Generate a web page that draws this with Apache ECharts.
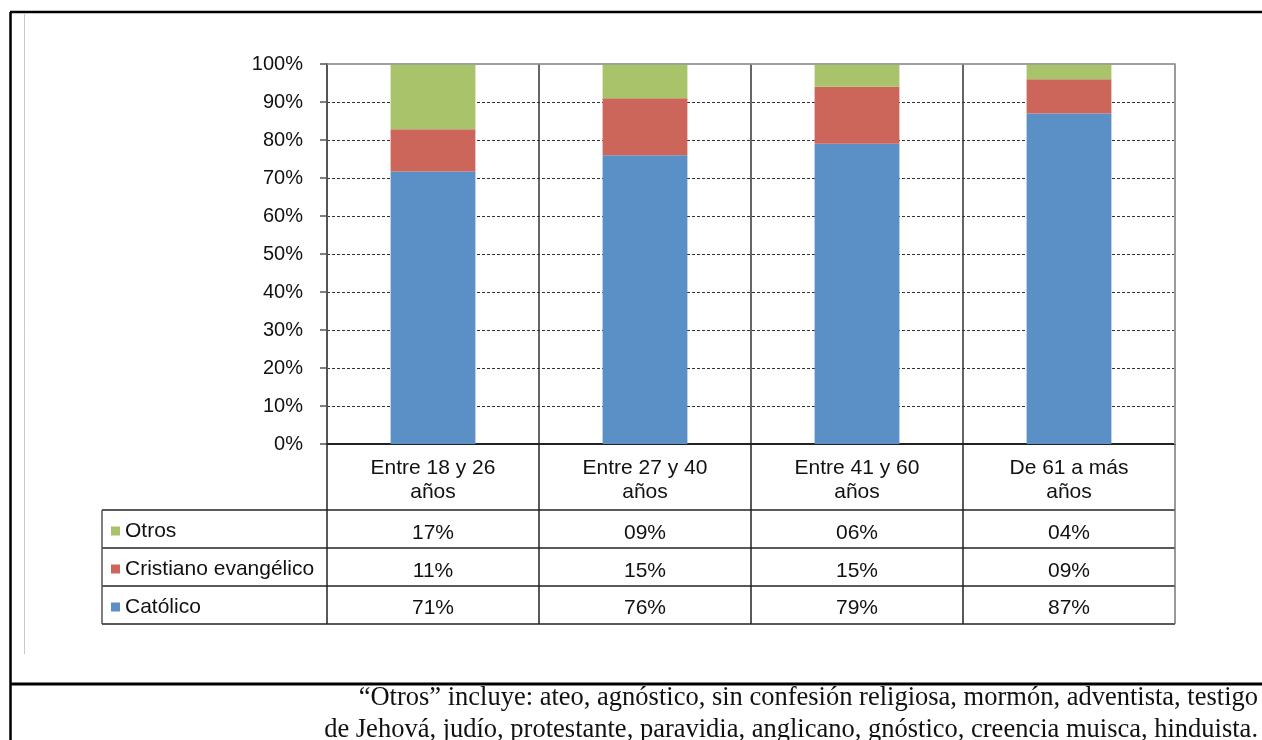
<!DOCTYPE html>
<html>
<head>
<meta charset="utf-8">
<script src="https://cdn.jsdelivr.net/npm/echarts@6/dist/echarts.min.js"></script>
<style>
html,body{margin:0;padding:0;background:#fff;}
#main{width:1262px;height:740px;}
</style>
</head>
<body>
<div id="main"></div>
<script>
// ---- data ----
const categories = ['Entre 18 y 26\naños', 'Entre 27 y 40\naños', 'Entre 41 y 60\naños', 'De 61 a más\naños'];
const seriesNames = ['Otros', 'Cristiano evangélico', 'Católico'];
const catolico = [71, 76, 79, 87];
const evangelico = [11, 15, 15, 9];
const otros = [17, 9, 6, 4];
const yTicks = ['0%', '10%', '20%', '30%', '40%', '50%', '60%', '70%', '80%', '90%', '100%'];
const footnote = [
  '\u201cOtros\u201d incluye: ateo, agnóstico, sin confesión religiosa, mormón, adventista, testigo',
  'de Jehová, judío, protestante, paravidia, anglicano, gnóstico, creencia muisca, hinduista.'
];

const colors = { 'Católico': '#5B90C6', 'Cristiano evangélico': '#CC665B', 'Otros': '#A9C36A' };
const totals = catolico.map((v, i) => v + evangelico[i] + otros[i]);
const share = arr => arr.map((v, i) => v / totals[i] * 100);
const fmt = v => String(v).padStart(2, '0') + '%';

const FONT = 'Liberation Sans, Arial, sans-serif';
const chart = echarts.init(document.getElementById('main'), null, { renderer: 'canvas' });

const rowAxis = (arr, offset) => ({
  type: 'category', gridIndex: 0, position: 'bottom', offset: offset,
  data: categories,
  axisLine: { show: false }, axisTick: { show: false }, splitLine: { show: false },
  axisLabel: { margin: 0, interval: 0, fontSize: 21, lineHeight: 24, color: '#111', fontFamily: FONT,
    formatter: (v, i) => fmt(arr[i]) }
});

const option = {
  animation: false,
  backgroundColor: '#fff',
  grid: { left: 327, right: 87, top: 64, bottom: 296, show: true, borderColor: '#9a9a9a', borderWidth: 1.5, containLabel: false },
  legend: {
    orient: 'vertical', left: 111, top: 519, padding: 0, itemGap: 14, itemWidth: 9, itemHeight: 9, icon: 'rect',
    data: seriesNames, selectedMode: false,
    textStyle: { fontSize: 21, lineHeight: 24, color: '#111', fontFamily: FONT }
  },
  xAxis: [
    {
      type: 'category', data: categories, position: 'bottom',
      axisLine: { show: true, lineStyle: { color: '#222', width: 2 } },
      axisTick: { show: false },
      splitLine: { show: true, lineStyle: { color: '#333', width: 1.5 } },
      axisLabel: { margin: 12, interval: 0, fontSize: 21, lineHeight: 24, color: '#111', fontFamily: FONT }
    },
    rowAxis(otros, 77),
    rowAxis(evangelico, 115),
    rowAxis(catolico, 152)
  ],
  yAxis: {
    type: 'value', min: 0, max: 100, interval: 10,
    axisLine: { show: true, lineStyle: { color: '#555', width: 2 } },
    axisTick: { show: true, length: 7, lineStyle: { color: '#555', width: 1.5 } },
    splitLine: { show: true, showMaxLine: false, lineStyle: { color: '#333', width: 1, type: [3, 2] } },
    axisLabel: { margin: 24, fontSize: 20, color: '#111', fontFamily: FONT, formatter: v => yTicks[Math.round(v / 10)] }
  },
  series: [
    { name: 'Católico', type: 'bar', stack: 't', barWidth: '40%', data: share(catolico), itemStyle: { color: colors['Católico'] } },
    { name: 'Cristiano evangélico', type: 'bar', stack: 't', data: share(evangelico), itemStyle: { color: colors['Cristiano evangélico'] } },
    { name: 'Otros', type: 'bar', stack: 't', data: share(otros), itemStyle: { color: colors['Otros'] } }
  ]
};
chart.setOption(option);

// ---- table lines and page frame, derived from the axes ----
const c0 = chart.convertToPixel({ xAxisIndex: 0 }, 0);
const c3 = chart.convertToPixel({ xAxisIndex: 0 }, categories.length - 1);
const band = (c3 - c0) / (categories.length - 1);
const xL = c0 - band / 2;
const xR = xL + band * categories.length;
const yB = chart.convertToPixel({ yAxisIndex: 0 }, 0);
const yT = chart.convertToPixel({ yAxisIndex: 0 }, 100);
const headerH = 66, rowH = 38, labelColLeft = 102;
const rowsY = [yB + headerH, yB + headerH + rowH, yB + headerH + 2 * rowH, yB + headerH + 3 * rowH];
const lineStyle = { stroke: '#222', lineWidth: 1.5 };
const g = [];
// gray plot frame on top/right
g.push({ type: 'line', shape: { x1: xL, y1: yT, x2: xR, y2: yT }, style: { stroke: '#9a9a9a', lineWidth: 1.5 }, z: 100 });
g.push({ type: 'line', shape: { x1: xR, y1: yT, x2: xR, y2: yB }, style: { stroke: '#9a9a9a', lineWidth: 2 }, z: 100 });
// horizontal lines
rowsY.forEach(y => g.push({ type: 'line', shape: { x1: labelColLeft, y1: y, x2: xR, y2: y }, style: lineStyle, z: 100 }));
// vertical lines in table
for (let i = 0; i <= categories.length; i++) {
  const x = xL + band * i;
  g.push({ type: 'line', shape: { x1: x, y1: yB, x2: x, y2: rowsY[3] },
    style: { stroke: i === categories.length ? '#777' : '#222', lineWidth: 1.5 }, z: 100 });
}
g.push({ type: 'line', shape: { x1: labelColLeft, y1: rowsY[0], x2: labelColLeft, y2: rowsY[3] }, style: { stroke: '#555', lineWidth: 1.5 }, z: 100 });
// page frame
g.push({ type: 'line', shape: { x1: 10, y1: 12, x2: 1262, y2: 12 }, style: { stroke: '#000', lineWidth: 2.5 }, z: 100 });
g.push({ type: 'line', shape: { x1: 10.5, y1: 12, x2: 10.5, y2: 740 }, style: { stroke: '#000', lineWidth: 2.5 }, z: 100 });
g.push({ type: 'line', shape: { x1: 10, y1: 684, x2: 1262, y2: 684 }, style: { stroke: '#000', lineWidth: 3 }, z: 100 });
g.push({ type: 'line', shape: { x1: 24.5, y1: 13, x2: 24.5, y2: 654 }, style: { stroke: '#c8c8c8', lineWidth: 1 }, z: 100 });
// footnote
footnote.forEach((t, i) => g.push({
  type: 'text', x: 1258, y: 698 + i * 32, z: 100,
  style: { text: t, align: 'right', verticalAlign: 'middle', fill: '#111',
    font: '26.5px "Liberation Serif", "Times New Roman", serif' }
}));
chart.setOption({ graphic: g });
</script>
</body>
</html>
